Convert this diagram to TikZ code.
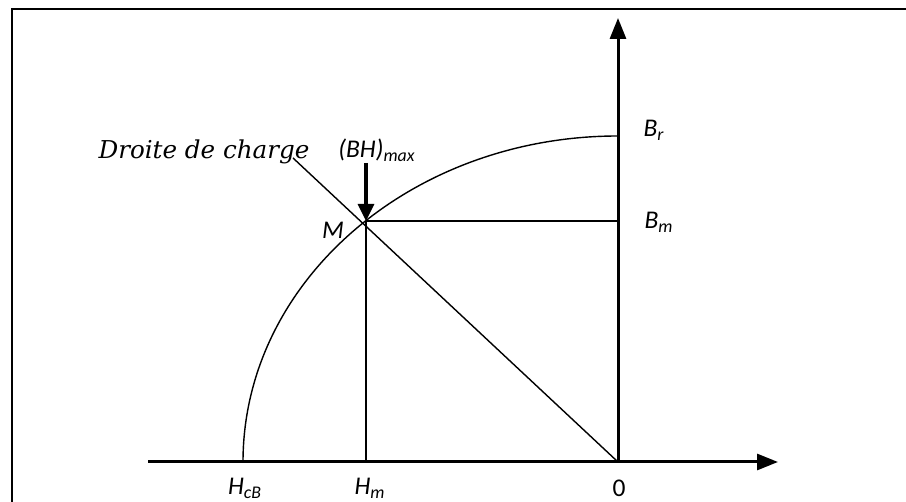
\documentclass[tikz,border=0pt]{standalone}
\usepackage{fontspec}
\setmainfont{Carlito}
\newfontfamily\droitefont{DejaVu Serif}
\usepackage{tikz}
\usetikzlibrary{arrows.meta}
\newcommand{\sublbl}[2]{\textit{#1}\textsubscript{\textit{#2}}}

\begin{document}
\begin{tikzpicture}[x=0.02cm, y=0.02cm, every node/.style={font=\fontsize{14.5}{17}\selectfont, inner sep=0pt}]
\useasboundingbox (0,0) rectangle (906,502);
\draw[line width=1.6pt] (12,0) -- (12,493) -- (906,493);
\coordinate (O) at (618,40);
\coordinate (xl) at (148,40);
\coordinate (xr) at (778,40);
\coordinate (yt) at (618,484);
\coordinate (hcb) at (243,40);
\coordinate (br) at (618,366);
\coordinate (M) at (366,281);
\coordinate (bm) at (618,281);
\coordinate (hm) at (366,40);
\coordinate (dc) at (293,344);
\coordinate (bhtop) at (366,339);
\draw[line width=1.7pt, -{Triangle[length=0.42cm, width=0.32cm]}] (xl) -- (xr);
\draw[line width=1.7pt, -{Triangle[length=0.42cm, width=0.32cm]}] (O) -- (yt);
\draw[line width=0.8pt] (hcb) arc[start angle=180, end angle=90, x radius=375, y radius=326];
\draw[line width=0.8pt] (M) -- (bm);
\draw[line width=0.8pt] (M) -- (hm);
\draw[line width=0.8pt] (O) -- (dc);
\draw[line width=1.8pt, -{Triangle[length=0.34cm, width=0.32cm]}] (bhtop) -- (M);
\node (ldc) at (204,350) {\fontsize{14}{17}\selectfont\droitefont\itshape Droite de charge};
\node (lbh) at (377,352) {\textit{(BH)}\textsubscript{\textit{max}}};
\node (lm) at (333,272) {\textit{M}};
\node (lbr) at (654,372) {\sublbl{B}{r}};
\node (lbm) at (659,280) {\sublbl{B}{m}};
\node (lhcb) at (245,14) {\sublbl{H}{cB}};
\node (lhm) at (370,14) {\sublbl{H}{m}};
\node (lo) at (619,14) {0};
\end{tikzpicture}
\end{document}
